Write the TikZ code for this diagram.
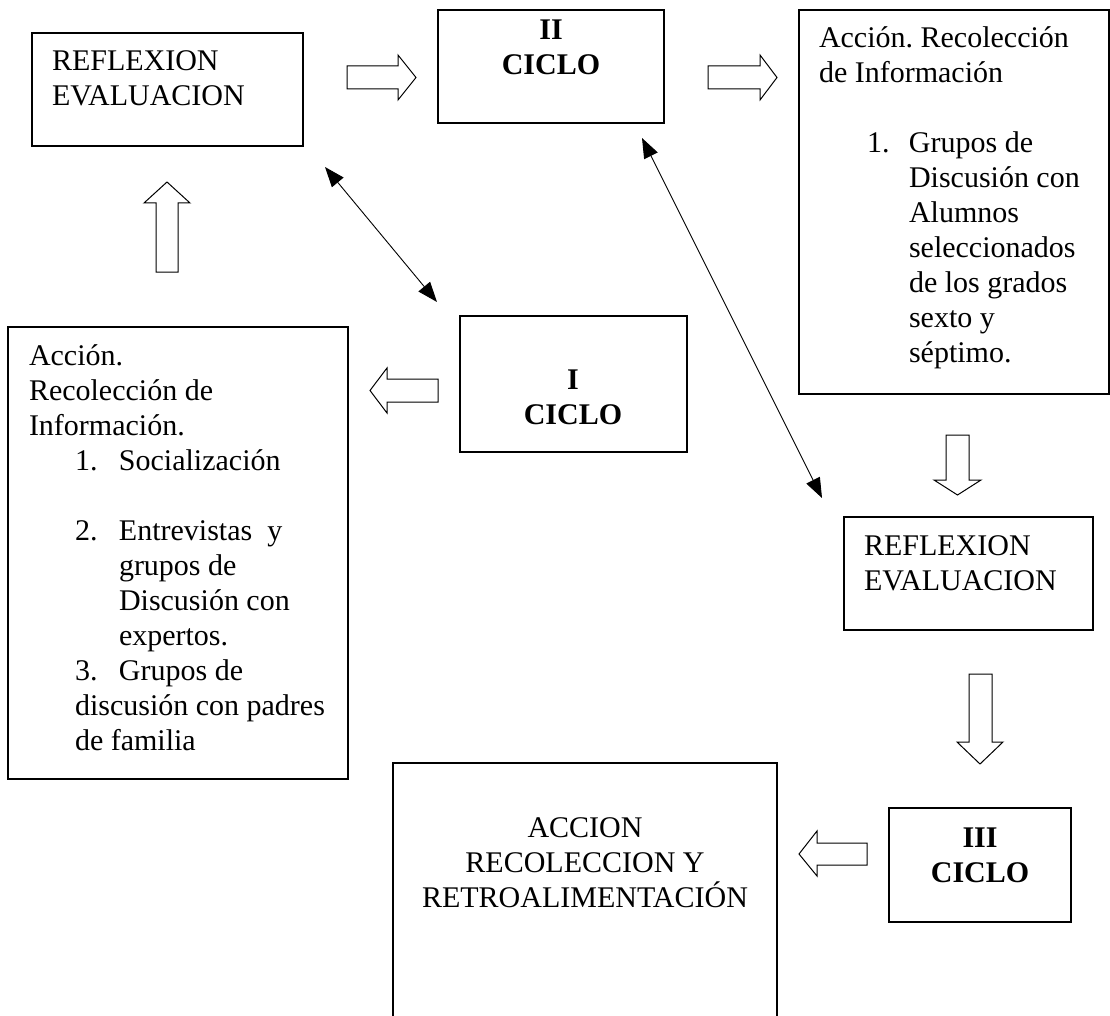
\documentclass[tikz,border=0pt]{standalone}
\usepackage{fontspec}
\setmainfont{Liberation Serif}
\usetikzlibrary{arrows.meta}
\frenchspacing
\newcommand{\lleft}[1]{\vtop{\baselineskip=35pt\lineskiplimit=-100pt\lineskip=0pt\halign{##\hfil\cr#1\crcr}}}
\newcommand{\lcent}[1]{\vtop{\baselineskip=35pt\lineskiplimit=-100pt\lineskip=0pt\halign{\hfil##\hfil\cr#1\crcr}}}
\begin{document}
\begin{tikzpicture}[x=1pt,y=-1pt,
  every node/.style={inner sep=0pt,outer sep=0pt,font=\fontsize{30}{35}\selectfont\frenchspacing},
  box/.style={draw=black,line width=1.1pt,anchor=north west,rectangle},
  txt/.style={anchor=base west,align=left},
  ctxt/.style={anchor=base,font=\fontsize{30}{35}\selectfont\bfseries},
  blk/.style={draw=black,fill=white,line width=1pt,line join=miter},
  dbl/.style={line width=0.9pt,{Triangle[length=20pt,width=15pt]}-{Triangle[length=20pt,width=15pt]}}]
\useasboundingbox (0,0) rectangle (1110,1016);
% boxes
\node[box,minimum width=271pt,minimum height=113pt] (refl1) at (32,33) {};
\node[box,minimum width=226pt,minimum height=113pt] (ciclo2) at (438,10) {};
\node[box,minimum width=310pt,minimum height=384pt] (acc2) at (799,10) {};
\node[box,minimum width=340pt,minimum height=452pt] (acc1) at (8,327) {};
\node[box,minimum width=227pt,minimum height=136pt] (ciclo1) at (460,316) {};
\node[box,minimum width=249pt,minimum height=113pt] (refl2) at (844,517) {};
\node[box,minimum width=182pt,minimum height=114pt] (ciclo3) at (889,808) {};
\node[box,minimum width=384pt,minimum height=260pt] (acc3) at (393,763) {};
% texts
\node[txt] (trefl1) at (52,71) {\lleft{REFLEXION\cr EVALUACION}};
\node[ctxt] (tciclo2) at (551,40) {\lcent{II\cr CICLO}};
\node[txt] (tacc2) at (819,48) {\lleft{Acción. Recolección\cr de Información\cr \cr
  \hskip48pt\makebox[42pt][l]{1.}Grupos de\cr
  \hskip90pt Discusión con\cr
  \hskip90pt Alumnos\cr
  \hskip90pt seleccionados\cr
  \hskip90pt de los grados\cr
  \hskip90pt sexto y\cr
  \hskip90pt séptimo.}};
\node[txt] (tacc1) at (29,365) {\lleft{Acción.\cr Recolección de\cr Información.\cr
  \hskip46pt\makebox[44pt][l]{1.}Socialización\cr \cr
  \hskip46pt\makebox[44pt][l]{2.}Entrevistas\ \ y\cr
  \hskip90pt grupos de\cr
  \hskip90pt Discusión con\cr
  \hskip90pt expertos.\cr
  \hskip46pt\makebox[44pt][l]{3.}Grupos de\cr
  \hskip46pt discusión con padres\cr
  \hskip46pt de familia}};
\node[ctxt] (tciclo1) at (573,389) {\lcent{I\cr CICLO}};
\node[txt] (trefl2) at (864,555) {\lleft{REFLEXION\cr EVALUACION}};
\node[ctxt] (tciclo3) at (980,847) {\lcent{III\cr CICLO}};
\node[anchor=base] (tacc3) at (585,837) {\lcent{ACCION\cr RECOLECCION Y\cr RETROALIMENTACIÓN}};
% block arrows
\draw[blk] (347,66) -- (398,66) -- (398,55) -- (416,77.5) -- (398,100) -- (398,89) -- (347,89) -- cycle;
\draw[blk] (708,66) -- (760,66) -- (760,55) -- (777,77.5) -- (760,100) -- (760,89) -- (708,89) -- cycle;
\draw[blk] (156,272) -- (156,203) -- (144,203) -- (167,182) -- (190,203) -- (178,203) -- (178,272) -- cycle;
\draw[blk] (438,379) -- (387,379) -- (387,368) -- (370,390.5) -- (387,413) -- (387,402) -- (438,402) -- cycle;
\draw[blk] (946,435) -- (946,480) -- (934,480) -- (957.5,495) -- (981,480) -- (969,480) -- (969,435) -- cycle;
\draw[blk] (969,674) -- (969,742) -- (957,742) -- (980,764) -- (1003,742) -- (992,742) -- (992,674) -- cycle;
\draw[blk] (867,843) -- (817,843) -- (817,831) -- (799,854) -- (817,876) -- (817,865) -- (867,865) -- cycle;
% double-headed connectors
\coordinate (d1a) at (325,167);
\coordinate (d1b) at (437,302);
\coordinate (d2a) at (642,138);
\coordinate (d2b) at (822,498);
\draw[dbl] (d1a) -- (d1b);
\draw[dbl] (d2a) -- (d2b);
\end{tikzpicture}
\end{document}
